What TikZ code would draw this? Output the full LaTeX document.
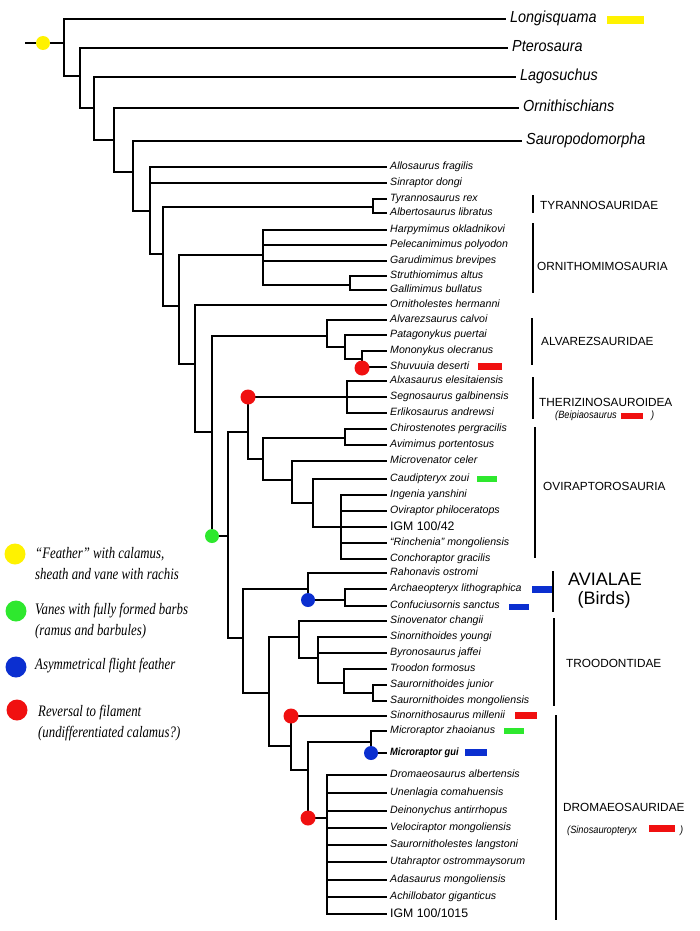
\documentclass[tikz,border=0pt]{standalone}
\usepackage{fontspec}
\setmainfont{Liberation Sans}
\newfontfamily\narrowsans[FakeStretch=0.88]{Liberation Sans}
\newfontfamily\toplabfont[FakeStretch=0.9]{Liberation Sans}
\newfontfamily\legendfont[FakeStretch=0.8]{Liberation Serif}
\definecolor{fyellow}{HTML}{FFF200}
\definecolor{fgreen}{HTML}{2EE82E}
\definecolor{fblue}{HTML}{0B2FD0}
\definecolor{fred}{HTML}{F01010}
\begin{document}
\begin{tikzpicture}[x=1pt,y=-1pt,
  tree/.style={line width=2.9pt, line join=miter, line cap=rect},
  clbar/.style={line width=2pt},
  species/.style={anchor=west, inner xsep=4pt, inner ysep=0pt, font=\fontsize{10.6}{12}\selectfont\itshape, text height=7.6pt, text depth=2.4pt},
  igm/.style={anchor=west, inner xsep=4pt, inner ysep=0pt, font=\fontsize{12.3}{14}\selectfont, text height=8.8pt, text depth=2.6pt},
  boldsp/.style={anchor=west, inner xsep=4pt, inner ysep=0pt, font=\narrowsans\bfseries\itshape\fontsize{10.6}{12}\selectfont, text height=7.6pt, text depth=2.4pt},
  toplab/.style={anchor=west, inner xsep=5pt, inner ysep=0pt, font=\toplabfont\itshape\fontsize{16}{18}\selectfont, text height=11.5pt, text depth=3.5pt},
  clade/.style={anchor=west, inner sep=0pt, font=\fontsize{11.8}{14}\selectfont},
  cladesub/.style={anchor=west, inner sep=0pt, font=\narrowsans\itshape\fontsize{10.5}{13}\selectfont},
  bigclade/.style={inner sep=0pt, font=\fontsize{18}{21}\selectfont},
  legtext/.style={anchor=west, inner sep=0pt, align=left, font=\legendfont\itshape\fontsize{16}{21}\selectfont}]
\useasboundingbox (0,0) rectangle (700,931);
\fill[white] (0,0) rectangle (700,931);

% ---------- top outgroups ----------
\node[toplab] (lon) at (505,19) {Longisquama};
\node[toplab] (pte) at (507,48) {Pterosaura};
\node[toplab] (lag) at (515,77) {Lagosuchus};
\node[toplab] (orn) at (518,108) {Ornithischians};
\node[toplab] (sau) at (521,141) {Sauropodomorpha};
\fill[fyellow] (607,16) rectangle (644,24);

\draw[tree] (26,43) -- (64,43);
\draw[tree] (64,76) -- (64,19) -- (lon.west);
\draw[tree] (64,76) -- (80,76);
\draw[tree] (80,108) -- (80,48) -- (pte.west);
\draw[tree] (80,108) -- (94,108);
\draw[tree] (94,140) -- (94,77) -- (lag.west);
\draw[tree] (94,140) -- (114,140);
\draw[tree] (114,172) -- (114,108) -- (orn.west);
\draw[tree] (114,172) -- (133,172);
\draw[tree] (133,211) -- (133,141) -- (sau.west);
\draw[tree] (133,211) -- (150,211);

% ---------- backbone ----------
\draw[tree] (150,167) -- (150,254) -- (163,254);
\draw[tree] (163,207) -- (163,306) -- (179,306);
\draw[tree] (179,255) -- (179,364) -- (195,364);
\draw[tree] (195,305) -- (195,432) -- (212,432);
\draw[tree] (212,336) -- (212,536) -- (228,536);
\draw[tree] (228,432) -- (228,638) -- (243,638);
\draw[tree] (243,589) -- (243,693) -- (269,693);
\draw[tree] (269,637) -- (269,746) -- (291,746);
\draw[tree] (291,716) -- (291,770) -- (308,770);
\draw[tree] (308,742) -- (308,818) -- (327,818);
\draw[tree] (327,775) -- (327,914);
\draw[tree] (308,742) -- (371,742);
\draw[tree] (371,731) -- (371,753);

% tyrannosaurs
\draw[tree] (163,207) -- (373,207);
\draw[tree] (373,199) -- (373,213);
% ornithomimids
\draw[tree] (179,255) -- (263,255);
\draw[tree] (263,230) -- (263,285) -- (350,285);
\draw[tree] (350,276) -- (350,290);
% alvarezsaurs
\draw[tree] (212,336) -- (327,336);
\draw[tree] (327,320) -- (327,347) -- (345,347);
\draw[tree] (345,335) -- (345,359) -- (362,359);
\draw[tree] (362,351) -- (362,367);
% therizinosaurs + oviraptorosaurs
\draw[tree] (228,432) -- (248,432);
\draw[tree] (248,397) -- (248,459) -- (263,459);
\draw[tree] (347,381) -- (347,413);
\draw[tree] (263,438) -- (263,480) -- (292,480);
\draw[tree] (263,438) -- (345,438);
\draw[tree] (345,429) -- (345,445);
\draw[tree] (292,461) -- (292,503) -- (313,503);
\draw[tree] (313,479) -- (313,527);
\draw[tree] (341,495) -- (341,559);
% avialae
\draw[tree] (243,589) -- (308,589);
\draw[tree] (308,573) -- (308,600) -- (345,600);
\draw[tree] (345,589) -- (345,606);
% troodontids
\draw[tree] (269,637) -- (299,637);
\draw[tree] (299,621) -- (299,658) -- (318,658);
\draw[tree] (318,637) -- (318,683) -- (344,683);
\draw[tree] (344,669) -- (344,693) -- (373,693);
\draw[tree] (373,685) -- (373,701);

% ---------- species ----------
\foreach \y/\x/\t [count=\i] in {
167/150/Allosaurus fragilis,
183/150/Sinraptor dongi,
199/373/Tyrannosaurus rex,
213/373/Albertosaurus libratus,
230/263/Harpymimus okladnikovi,
245/263/Pelecanimimus polyodon,
261/263/Garudimimus brevipes,
276/350/Struthiomimus altus,
290/350/Gallimimus bullatus,
305/195/Ornitholestes hermanni,
320/327/Alvarezsaurus calvoi,
335/345/Patagonykus puertai,
351/362/Mononykus olecranus,
367/362/Shuvuuia deserti,
381/347/Alxasaurus elesitaiensis,
397/248/Segnosaurus galbinensis,
413/347/Erlikosaurus andrewsi,
429/345/Chirostenotes pergracilis,
445/345/Avimimus portentosus,
461/292/Microvenator celer,
479/313/Caudipteryx zoui,
495/341/Ingenia yanshini,
511/341/Oviraptor philoceratops,
543/341/“Rinchenia” mongoliensis,
559/341/Conchoraptor gracilis,
573/308/Rahonavis ostromi,
589/345/Archaeopteryx lithographica,
606/345/Confuciusornis sanctus,
621/299/Sinovenator changii,
637/318/Sinornithoides youngi,
653/318/Byronosaurus jaffei,
669/344/Troodon formosus,
685/373/Saurornithoides junior,
701/373/Saurornithoides mongoliensis,
716/291/Sinornithosaurus millenii,
731/371/Microraptor zhaoianus,
775/327/Dromaeosaurus albertensis,
793/327/Unenlagia comahuensis,
811/327/Deinonychus antirrhopus,
828/327/Velociraptor mongoliensis,
845/327/Saurornitholestes langstoni,
862/327/Utahraptor ostrommaysorum,
880/327/Adasaurus mongoliensis,
897/327/Achillobator giganticus}
{
  \node[species] (s\i) at (386,\y) {\t};
  \draw[tree] (\x,\y) -- (s\i.west);
}
\node[igm] (igma) at (386,527) {IGM 100/42};
\draw[tree] (313,527) -- (igma.west);
\node[boldsp] (mgui) at (386,753) {Microraptor gui};
\draw[tree] (371,753) -- (mgui.west);
\node[igm] (igmb) at (386,914) {IGM 100/1015};
\draw[tree] (327,914) -- (igmb.west);

% ---------- character dots ----------
\fill[fyellow] (43,43) circle (7pt);
\fill[fred] (362,368) circle (7.5pt);
\fill[fred] (248,397) circle (7.5pt);
\fill[fgreen] (212,536) circle (7pt);
\fill[fblue] (308,600) circle (7pt);
\fill[fred] (291,716) circle (7.5pt);
\fill[fblue] (371,753) circle (7pt);
\fill[fred] (308,818) circle (7.5pt);

% ---------- species bars ----------
\fill[fred] (478,363) rectangle (502,370);
\fill[fgreen] (477,476) rectangle (497,482);
\fill[fblue] (532,586) rectangle (552,593);
\fill[fblue] (509,604) rectangle (529,610);
\fill[fred] (515,712) rectangle (537,719);
\fill[fgreen] (504,728) rectangle (524,734);
\fill[fblue] (465,749) rectangle (487,756);

% ---------- clade labels ----------
\draw[clbar] (533,195) -- (533,213);
\node[clade] (tyr) at (540,205) {TYRANNOSAURIDAE};
\draw[clbar] (533,223) -- (533,293);
\node[clade] (omi) at (537,266) {ORNITHOMIMOSAURIA};
\draw[clbar] (532,318) -- (532,365);
\node[clade] (alv) at (541,341) {ALVAREZSAURIDAE};
\draw[clbar] (533,377) -- (533,419);
\node[clade] (ther) at (539,402) {THERIZINOSAUROIDEA};
\node[cladesub] (bei) at (555,416) {(Beipiaosaurus};
\fill[fred] (621,413) rectangle (643,419);
\node[cladesub] (beic) at (651,416) {)};
\draw[clbar] (535,427) -- (535,558);
\node[clade] (ovi) at (543,486) {OVIRAPTOROSAURIA};
\draw[clbar] (553,571) -- (553,612);
\node[bigclade, anchor=west] (avi) at (568,579) {AVIALAE};
\node[bigclade] (bird) at (604,600) {(Birds)};
\draw[clbar] (554,618) -- (554,706);
\node[clade] (tro) at (566,663) {TROODONTIDAE};
\draw[clbar] (556,715) -- (556,920);
\node[clade] (dro) at (563,807) {DROMAEOSAURIDAE};
\node[cladesub] (sino) at (567,831) {(Sinosauropteryx};
\fill[fred] (649,825) rectangle (675,832);
\node[cladesub] (sinoc) at (680,831) {)};

% ---------- legend ----------
\fill[fyellow] (15,554) circle (10.5pt);
\node[legtext] (l1) at (35,563.5) {“Feather” with calamus,\\sheath and vane with rachis};
\fill[fgreen] (16,611) circle (10.5pt);
\node[legtext] (l2) at (35,621) {Vanes with fully formed barbs\\(ramus and barbules)};
\fill[fblue] (16,667) circle (10.5pt);
\node[legtext] (l3) at (35,666) {Asymmetrical flight feather};
\fill[fred] (17,710) circle (10.5pt);
\node[legtext] (l4) at (38,723.5) {Reversal to filament\\(undifferentiated calamus?)};
\end{tikzpicture}
\end{document}
